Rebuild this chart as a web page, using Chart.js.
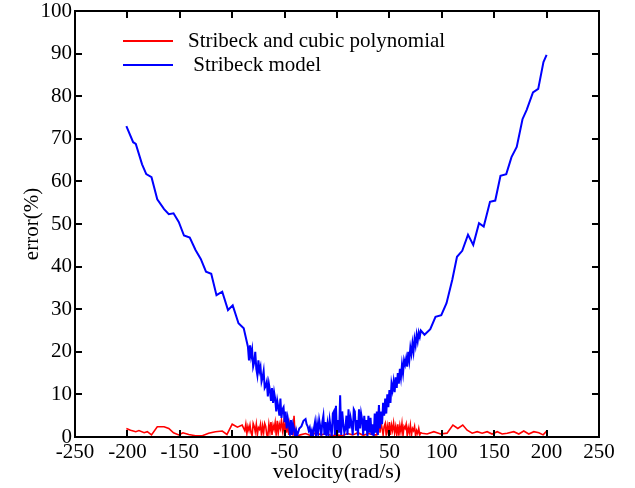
<!DOCTYPE html>
<html>
<head>
<meta charset="utf-8">
<script src="https://cdn.jsdelivr.net/npm/chart.js@4"></script>
<style>
  html, body { margin: 0; padding: 0; background: #fff; }
  #wrap { width: 635px; height: 488px; }
</style>
</head>
<body>
<div id="wrap"><canvas id="error-chart"></canvas></div>
<script>
// Stribeck model error (blue)
const blueX = [-201, -194.5, -192, -186, -182, -177, -171.5, -165, -160.5, -156, -151, -146, -140.5, -135, -130, -125, -120, -115, -109.5, -104, -99.5, -94, -89,
  -85, -84, -83, -82, -81, -80, -79, -78, -77, -76, -75, -74, -73, -72, -71, -70, -69, -68, -67, -66, -65, -64, -63, -62, -61, -60,
  -59, -58, -57, -56, -55, -54, -53, -52, -51, -50, -49, -48, -47, -46, -45, -44, -43, -42, -41, -40, -39, -38, -36, -34, -32, -30,
  -29, -28, -27, -26, -25, -24, -23, -22, -21, -20, -19, -18, -17, -16, -15, -14, -13, -12, -11, -10, -9, -8, -7, -6, -5, -4, -3, -2, -1,
  0, 1, 2, 3, 4, 5, 6, 7, 8, 9, 10, 11, 12, 13, 14, 15, 16, 17, 18, 19, 20, 21, 22, 23, 24, 25, 26, 27, 28, 29, 30, 31, 32, 33, 34, 35,
  36, 37, 38, 39, 40, 41, 42, 43, 44, 45, 46, 47, 48, 49, 50, 51, 52, 53, 54, 55, 56, 57, 58, 59, 60, 61, 62, 63, 64, 65, 66, 67, 68, 69,
  70, 71, 72, 73, 74, 75, 76, 77, 78, 79, 80,
  83.5, 89, 94, 99.5, 104.5, 110, 114.5, 119.5, 125, 130, 135.5, 140, 146, 151, 156, 161.5, 166.5, 171.5, 177, 181, 187, 192, 197, 200];
const blueY = [73, 69.2, 68.8, 64, 61.7, 61, 55.8, 53.5, 52.3, 52.5, 50.5, 47.3, 46.8, 43.9, 41.8, 38.8, 38.3, 33.3, 34.1, 29.8, 30.9, 26.7, 25.5,
  21.2, 18, 21.5, 19, 20.5, 16.5, 17.5, 20, 16, 14.5, 18, 15.5, 16.5, 13, 14, 15.5, 11.5, 12, 13, 9.5, 12.5, 11, 8.5, 11.5, 8, 10.5,
  9, 6, 8.5, 7, 5, 9, 4.5, 6.5, 7, 3.5, 6, 2, 4.5, 3, 1, 4, 0.5, 3, 2, 0, 1.5, 0.3, 2, 2.5, 3.8, 4.2,
  3, 2.5, 1.5, 2.2, 0.5, 1.5, 0, 2, 3.5, 0.2, 3, 1, 4, 2.5, 0.3, 3.5, 5, 0.5, 3.5, 0, 3, 1, 4, 2, 0, 5.5, 6, 0.5, 7.3,
  0, 4, 1, 9.8, 0.5, 6, 3, 1, 2, 5, 0.5, 6.5, 2, 4.5, 3, 0.5, 6.5, 6, 1.5, 4, 0.3, 6.5, 2, 5.5, 4, 0.5, 5, 1.5, 4, 0, 5, 1, 4.5, 0.5, 3, 0, 5.5,
  1, 6, 0.5, 7.5, 2, 6, 3, 8, 5, 9, 5.5, 10, 7, 11, 8, 12.5, 11, 13, 10.5, 14, 11.5, 15, 12.5, 16, 14, 17, 15, 18, 17, 18.5, 16.5, 20, 18, 21,
  19.5, 22, 20, 23, 21.5, 24, 22.5, 24.5, 23.5, 25, 24,
  25.3, 28.2, 28.6, 31.4, 36.9, 42.3, 43.7, 47.5, 45.1, 50.2, 49.4, 55.2, 55.5, 61.3, 61.7, 65.7, 68.1, 74.6, 76.8, 80.9, 81.7, 88, 89.7, 91];

// Stribeck and cubic polynomial error (red)
const redX = [-201, -197, -192, -189, -184, -181, -177, -171.5, -165, -160.5, -156, -151, -147, -141.5, -135, -128.5, -122.5, -116, -109.5, -105, -100, -95, -90.5,
  -88, -87, -86, -85, -84, -83, -82, -81, -80, -79, -78, -77, -76, -75, -74, -73, -72, -71, -70, -69, -68, -67, -66, -65, -64, -63, -62,
  -61, -60, -59, -58, -57, -56, -55, -54, -53, -52, -51, -50, -49, -48, -47, -46, -45, -44, -43, -42, -41, -40, -39, -38,
  -35, -30, -25, -20, -15, -10, -5, 0, 5, 10, 15, 20, 25, 30, 35,
  38, 39, 40, 41, 42, 43, 44, 45, 46, 47, 48, 49, 50, 51, 52, 53, 54, 55, 56, 57, 58, 59, 60, 61, 62, 63, 64, 65, 66, 67, 68, 69, 70,
  71, 72, 73, 74, 75, 76, 77, 78, 79, 80,
  81.3, 86, 92.4, 98.8, 105, 110.6, 115.3, 120, 124.2, 129, 133.8, 138.5, 143.3, 148, 152.9, 157.6, 162.4, 168.7, 173.5, 178.2, 183, 187.8, 192.6, 196.7, 200.5];
const redY = [2, 1.6, 1.25, 1.5, 1, 1.25, 0.5, 2.4, 2.4, 2, 1, 0.5, 1, 0.6, 0.3, 0.3, 0.9, 1.25, 1.4, 0.6, 3, 2.3, 2.8,
  1.5, 3, 0.8, 2.5, 1.5, 2.8, 1, 0.3, 3.2, 2.5, 1.2, 3, 0.5, 2.2, 1.8, 3, 0.3, 2.6, 1, 3.2, 2.5, 0.5, 0.2, 3, 1.2, 3.5, 0.5,
  2.8, 1.8, 3.4, 0.3, 3.8, 1, 3, 2, 4, 1.5, 3.2, 0.2, 4.5, 1, 3.5, 0.5, 3, 1, 2, 0.3, 5, 0.5, 1.5, 0.2,
  0.5, 0.8, 0.3, 1, 0.5, 0.8, 0.3, 0.5, 0.3, 0.8, 0.5, 1, 0.4, 0.8, 0.5,
  0.5, 3, 7.5, 1, 3.5, 2, 0.5, 2.5, 3.2, 0.3, 2.6, 1, 3.5, 0.5, 2.8, 1.5, 3.3, 1, 2.5, 0.5, 3, 0.3, 2.7, 1.2, 3.2, 0.4, 2.5, 2, 3, 0.3, 2.2, 1, 2.8,
  0.3, 2, 1.5, 2.5, 0.2, 1.5, 0.8, 2, 0.5, 1,
  0.9, 0.7, 1.25, 0.7, 0.9, 2.8, 2, 2.8, 1.6, 0.9, 1.25, 0.9, 1.25, 0.7, 1.25, 0.7, 0.9, 1.25, 0.7, 1.4, 0.7, 1.25, 1, 0.5, 1.5];

const xTicks = [-250, 250, 50];   // min, max, step
const yTicks = [0, 100, 10];

const toPoints = (xs, ys) => xs.map((x, i) => ({ x: x, y: ys[i] }));

const serif = 'Liberation Serif';
Chart.defaults.font.family = serif;
Chart.defaults.color = '#000';

// inward tick marks on all four sides + box frame
const frameTicks = {
    id: 'frameTicks',
    afterDatasetsDraw(chart) {
        const ctx = chart.ctx;
        const a = chart.chartArea;
        const xs = chart.scales.x, ys = chart.scales.y;
        const len = 7;
        ctx.save();
        ctx.strokeStyle = '#000';
        ctx.lineWidth = 2;
        ctx.beginPath();
        xs.ticks.forEach(t => {
            const px = Math.round(xs.getPixelForValue(t.value));
            ctx.moveTo(px, a.bottom); ctx.lineTo(px, a.bottom - len);
            ctx.moveTo(px, a.top); ctx.lineTo(px, a.top + len);
        });
        ys.ticks.forEach(t => {
            const py = Math.round(ys.getPixelForValue(t.value));
            ctx.moveTo(a.left, py); ctx.lineTo(a.left + len, py);
            ctx.moveTo(a.right, py); ctx.lineTo(a.right - len, py);
        });
        ctx.stroke();
        ctx.strokeRect(a.left, a.top, a.right - a.left, a.bottom - a.top);
        ctx.restore();
    }
};

// legend inside the plot, top-left
const innerLegend = {
    id: 'innerLegend',
    afterDraw(chart) {
        const ctx = chart.ctx;
        ctx.save();
        ctx.font = '21px "' + serif + '"';
        ctx.textBaseline = 'middle';
        ctx.fillStyle = '#000';
        chart.data.datasets.forEach((ds, i) => {
            const y = 41 + i * 24;
            ctx.strokeStyle = ds.borderColor;
            ctx.lineWidth = 2;
            ctx.beginPath();
            ctx.moveTo(123, y);
            ctx.lineTo(173, y);
            ctx.stroke();
            ctx.fillText(ds.label, 188, y);
        });
        ctx.restore();
    }
};

new Chart(document.getElementById('error-chart'), {
    type: 'line',
    data: {
        datasets: [{
            label: 'Stribeck and cubic polynomial',
            data: toPoints(redX, redY),
            borderColor: '#ff0000',
            borderWidth: 1.6,
            pointRadius: 0,
            order: 1
        }, {
            label: ' Stribeck model',
            data: toPoints(blueX, blueY),
            borderColor: '#0000ff',
            borderWidth: 2,
            pointRadius: 0,
            order: 0
        }]
    },
    options: {
        responsive: true,
        maintainAspectRatio: false,
        animation: false,
        layout: { padding: { left: 0, right: 36, top: 11, bottom: 0 } },
        plugins: {
            legend: { display: false },
            tooltip: { enabled: false }
        },
        scales: {
            x: {
                type: 'linear',
                min: xTicks[0],
                max: xTicks[1],
                ticks: { stepSize: xTicks[2], autoSkip: false, font: { size: 21 }, padding: -5, maxRotation: 0 },
                grid: { display: false },
                border: { display: false },
                title: { display: true, text: 'velocity(rad/s)', font: { size: 22 }, padding: { top: 0, bottom: 3 } },
                afterFit(scale) { scale.height = 51; }
            },
            y: {
                min: yTicks[0],
                max: yTicks[1],
                ticks: { stepSize: yTicks[2], autoSkip: false, font: { size: 21 }, padding: -5 },
                grid: { display: false },
                border: { display: false },
                title: { display: true, text: 'error(%)', font: { size: 21 }, padding: { top: 20, bottom: 0 } },
                afterFit(scale) { scale.width = 75; }
            }
        }
    },
    plugins: [frameTicks, innerLegend]
});
</script>
</body>
</html>
